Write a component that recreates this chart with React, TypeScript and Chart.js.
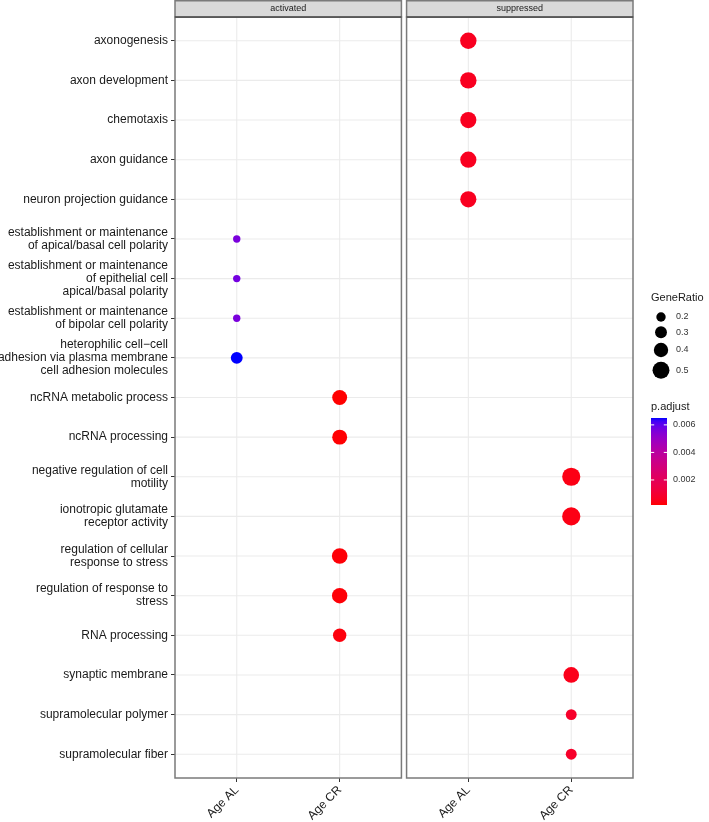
import React, { useEffect, useRef } from 'react';
import { Chart, registerables } from 'chart.js';

Chart.register(...registerables);

const FONT = '"Liberation Sans", Arial, Helvetica, sans-serif';

// ---------------- data ----------------
const panels = ['activated', 'suppressed'];
const groups = ['Age AL', 'Age CR'];

const termLabels: string[][] = [
  ['axonogenesis'],
  ['axon development'],
  ['chemotaxis'],
  ['axon guidance'],
  ['neuron projection guidance'],
  ['establishment or maintenance', 'of apical/basal cell polarity'],
  ['establishment or maintenance', 'of epithelial cell', 'apical/basal polarity'],
  ['establishment or maintenance', 'of bipolar cell polarity'],
  ['heterophilic cell\u2212cell', 'adhesion via plasma membrane', 'cell adhesion molecules'],
  ['ncRNA metabolic process'],
  ['ncRNA processing'],
  ['negative regulation of cell', 'motility'],
  ['ionotropic glutamate', 'receptor activity'],
  ['regulation of cellular', 'response to stress'],
  ['regulation of response to', 'stress'],
  ['RNA processing'],
  ['synaptic membrane'],
  ['supramolecular polymer'],
  ['supramolecular fiber'],
];

const termPanel = [
  'suppressed', 'suppressed', 'suppressed', 'suppressed', 'suppressed',
  'activated', 'activated', 'activated', 'activated',
  'activated', 'activated',
  'suppressed', 'suppressed',
  'activated', 'activated', 'activated',
  'suppressed', 'suppressed', 'suppressed',
];

const termGroup = [
  'Age AL', 'Age AL', 'Age AL', 'Age AL', 'Age AL',
  'Age AL', 'Age AL', 'Age AL', 'Age AL',
  'Age CR', 'Age CR',
  'Age CR', 'Age CR',
  'Age CR', 'Age CR', 'Age CR',
  'Age CR', 'Age CR', 'Age CR',
];

const geneRatio = [
  0.48, 0.48, 0.47, 0.47, 0.47,
  0.12, 0.12, 0.12, 0.30,
  0.42, 0.42,
  0.55, 0.55,
  0.45, 0.44, 0.36,
  0.45, 0.26, 0.26,
];

const pAdjust = [
  0.0006, 0.0006, 0.0006, 0.0006, 0.0006,
  0.0056, 0.0057, 0.0056, 0.0065,
  0.00018, 0.0002,
  0.0004, 0.0004,
  0.00025, 0.00025, 0.0003,
  0.0005, 0.0008, 0.0008,
];

const sizeBreaks = [0.2, 0.3, 0.4, 0.5];
const colorBreaks = [0.002, 0.004, 0.006];
const colorBreakLabels = ['0.002', '0.004', '0.006'];

// ---------------- helpers ----------------
const PANEL_GAP = 0.05;
const PANEL_SPAN = 2.2 + PANEL_GAP;
const xOf = (p: number, g: number) => 1 + g + p * PANEL_SPAN;

const radiusFor = (r: number) => 4.7 + (r - 0.2) * 12.5;

function toLinear(c: number) {
  c /= 255;
  return c <= 0.04045 ? c / 12.92 : Math.pow((c + 0.055) / 1.055, 2.4);
}
function fromLinear(c: number) {
  const v = c <= 0.0031308 ? 12.92 * c : 1.055 * Math.pow(c, 1 / 2.4) - 0.055;
  return Math.max(0, Math.min(255, Math.round(v * 255)));
}
function rgbToLab(rgb: number[]) {
  const [R, G, B] = rgb.map(toLinear);
  const X = (0.4124 * R + 0.3576 * G + 0.1805 * B) / 0.95047;
  const Y = 0.2126 * R + 0.7152 * G + 0.0722 * B;
  const Z = (0.0193 * R + 0.1192 * G + 0.9505 * B) / 1.08883;
  const f = (t: number) => (t > 0.008856 ? Math.cbrt(t) : 7.787 * t + 16 / 116);
  const fx = f(X), fy = f(Y), fz = f(Z);
  return [116 * fy - 16, 500 * (fx - fy), 200 * (fy - fz)];
}
function labToRgb(lab: number[]) {
  const [L, a, b] = lab;
  const fy = (L + 16) / 116;
  const fx = fy + a / 500;
  const fz = fy - b / 200;
  const inv = (t: number) => (t * t * t > 0.008856 ? t * t * t : (t - 16 / 116) / 7.787);
  const X = inv(fx) * 0.95047, Y = inv(fy), Z = inv(fz) * 1.08883;
  const R = 3.2406 * X - 1.5372 * Y - 0.4986 * Z;
  const G = -0.9689 * X + 1.8758 * Y + 0.0415 * Z;
  const B = 0.0557 * X - 0.204 * Y + 1.057 * Z;
  return [fromLinear(R), fromLinear(G), fromLinear(B)];
}
const LOW_LAB = rgbToLab([255, 0, 0]);
const HIGH_LAB = rgbToLab([0, 0, 255]);
const pMin = Math.min(...pAdjust);
const pMax = Math.max(...pAdjust);
function colorAtT(t: number) {
  const lab = LOW_LAB.map((v, i) => v + (HIGH_LAB[i] - v) * t);
  const [r, g, b] = labToRgb(lab);
  return `rgb(${r},${g},${b})`;
}
const colorFor = (p: number) => colorAtT((p - pMin) / (pMax - pMin));

// ---------------- plugins ----------------
const BORDER = '#7a7a7a';

const facetPlugin = {
  id: 'facets',
  beforeDatasetsDraw(chart: any) {
    const { ctx, chartArea: ca, scales } = chart;
    const x = scales.x, y = scales.y;
    panels.forEach((_, p) => {
      const l = x.getPixelForValue(0.4 + p * PANEL_SPAN);
      const r = x.getPixelForValue(2.6 + p * PANEL_SPAN);
      ctx.save();
      ctx.strokeStyle = '#EBEBEB';
      ctx.lineWidth = 1.1;
      termLabels.forEach((_, i) => {
        const py = y.getPixelForValue(i + 1);
        ctx.beginPath();
        ctx.moveTo(l, py);
        ctx.lineTo(r, py);
        ctx.stroke();
      });
      groups.forEach((_, g) => {
        const px = x.getPixelForValue(xOf(p, g));
        ctx.beginPath();
        ctx.moveTo(px, ca.top);
        ctx.lineTo(px, ca.bottom);
        ctx.stroke();
      });
      ctx.restore();
    });
  },
  afterDatasetsDraw(chart: any) {
    const { ctx, chartArea: ca, scales } = chart;
    const x = scales.x;
    panels.forEach((name, p) => {
      const l = x.getPixelForValue(0.4 + p * PANEL_SPAN);
      const r = x.getPixelForValue(2.6 + p * PANEL_SPAN);
      ctx.save();
      ctx.lineWidth = 1.5;
      ctx.strokeStyle = BORDER;
      ctx.strokeRect(l, ca.top, r - l, ca.bottom - ca.top);
      // strip
      ctx.fillStyle = '#D9D9D9';
      ctx.fillRect(l, 0.75, r - l, ca.top - 0.75);
      ctx.strokeRect(l, 0.75, r - l, ca.top - 0.75);
      ctx.strokeStyle = '#333333';
      ctx.lineWidth = 1.2;
      ctx.beginPath();
      ctx.moveTo(l, ca.top);
      ctx.lineTo(r, ca.top);
      ctx.stroke();
      ctx.fillStyle = '#1A1A1A';
      ctx.font = `9px ${FONT}`;
      ctx.textAlign = 'center';
      ctx.textBaseline = 'middle';
      ctx.fillText(name, (l + r) / 2, ca.top / 2 + 0.5);
      ctx.restore();
    });
  },
};

const legendPlugin = {
  id: 'ggLegend',
  afterDraw(chart: any) {
    const { ctx } = chart;
    const lx = 651;
    ctx.save();
    ctx.textAlign = 'left';
    ctx.textBaseline = 'middle';
    ctx.fillStyle = '#1A1A1A';
    ctx.font = `11px ${FONT}`;
    ctx.fillText('GeneRatio', lx, 298);

    // size keys
    let cy = 317;
    sizeBreaks.forEach((b, i) => {
      const rad = radiusFor(b);
      if (i > 0) {
        const prev = radiusFor(sizeBreaks[i - 1]);
        cy += (2 * prev + 2 * rad) / 2 + 4.6;
      }
      ctx.fillStyle = '#000000';
      ctx.beginPath();
      ctx.arc(lx + 10, cy, rad, 0, Math.PI * 2);
      ctx.fill();
      ctx.fillStyle = '#333333';
      ctx.font = `9px ${FONT}`;
      ctx.fillText(String(b), lx + 25, cy);
    });

    // colour bar
    ctx.fillStyle = '#1A1A1A';
    ctx.font = `11px ${FONT}`;
    ctx.fillText('p.adjust', lx, 407);
    const barTop = 418, barBot = 505, barL = lx, barW = 16;
    const grad = ctx.createLinearGradient(0, barBot, 0, barTop);
    for (let i = 0; i <= 30; i++) {
      grad.addColorStop(i / 30, colorAtT(i / 30));
    }
    ctx.fillStyle = grad;
    ctx.fillRect(barL, barTop, barW, barBot - barTop);
    colorBreaks.forEach((b, i) => {
      const t = (b - pMin) / (pMax - pMin);
      const py = barBot - t * (barBot - barTop);
      ctx.strokeStyle = '#FFFFFF';
      ctx.lineWidth = 1;
      ctx.beginPath();
      ctx.moveTo(barL, py);
      ctx.lineTo(barL + 3.2, py);
      ctx.moveTo(barL + barW - 3.2, py);
      ctx.lineTo(barL + barW, py);
      ctx.stroke();
      ctx.fillStyle = '#333333';
      ctx.font = `9px ${FONT}`;
      ctx.fillText(colorBreakLabels[i], barL + barW + 6, py);
    });
    ctx.restore();
  },
};

const xTickValues: number[] = [];
panels.forEach((_, p) => groups.forEach((_, g) => xTickValues.push(xOf(p, g))));

export default function App() {
  const ref = useRef<HTMLCanvasElement | null>(null);

  useEffect(() => {
    document.body.style.margin = '0';
    const canvas = ref.current;
    if (!canvas) return;
    const points = termLabels.map((_, i) => ({
      x: xOf(panels.indexOf(termPanel[i]), groups.indexOf(termGroup[i])),
      y: i + 1,
    }));
    const chart = new Chart(canvas, {
      type: 'scatter',
      data: {
        datasets: [
          {
            data: points,
            pointRadius: geneRatio.map(radiusFor),
            pointHoverRadius: geneRatio.map(radiusFor),
            pointBackgroundColor: pAdjust.map(colorFor),
            pointBorderWidth: 0,
            borderWidth: 0,
          } as any,
        ],
      },
      options: {
        animation: false,
        responsive: false,
        devicePixelRatio: 1,
        events: [],
        layout: { padding: { top: 17, right: 76, bottom: 0, left: 0 } },
        plugins: { legend: { display: false }, tooltip: { enabled: false } },
        scales: {
          x: {
            type: 'linear',
            min: 0.4,
            max: 0.4 + 4.4 + PANEL_GAP,
            afterBuildTicks: (s: any) => {
              s.ticks = xTickValues.map((v) => ({ value: v }));
            },
            afterFit: (s: any) => {
              s.height = 44;
            },
            grid: { drawOnChartArea: false, drawTicks: true, tickLength: 4, color: '#333333', lineWidth: 1 },
            border: { display: false },
            ticks: {
              autoSkip: false,
              minRotation: 45,
              maxRotation: 45,
              padding: 1,
              color: '#1A1A1A',
              font: { family: FONT, size: 12 },
              callback: (v: any) => {
                const val = Number(v);
                const p = val > 2.6 ? 1 : 0;
                const g = Math.round(val - 1 - p * PANEL_SPAN);
                return groups[g];
              },
            },
          },
          y: {
            type: 'linear',
            reverse: true,
            min: 0.4,
            max: termLabels.length + 0.6,
            afterBuildTicks: (s: any) => {
              s.ticks = termLabels.map((_, i) => ({ value: i + 1 }));
            },
            afterFit: (s: any) => {
              s.width = 175;
            },
            grid: { drawOnChartArea: false, drawTicks: true, tickLength: 4, color: '#333333', lineWidth: 1 },
            border: { display: false },
            ticks: {
              autoSkip: false,
              padding: 3,
              color: '#1A1A1A',
              font: { family: FONT, size: 12, lineHeight: 13 / 12 },
              callback: (v: any) => termLabels[Math.round(Number(v)) - 1],
            },
          },
        },
      } as any,
      plugins: [facetPlugin, legendPlugin],
    });
    return () => chart.destroy();
  }, []);

  return (
    <div style={{ width: 709, height: 822, position: 'relative', background: '#fff' }}>
      <canvas ref={ref} width={709} height={822} style={{ display: 'block', width: 709, height: 822 }} />
    </div>
  );
}
